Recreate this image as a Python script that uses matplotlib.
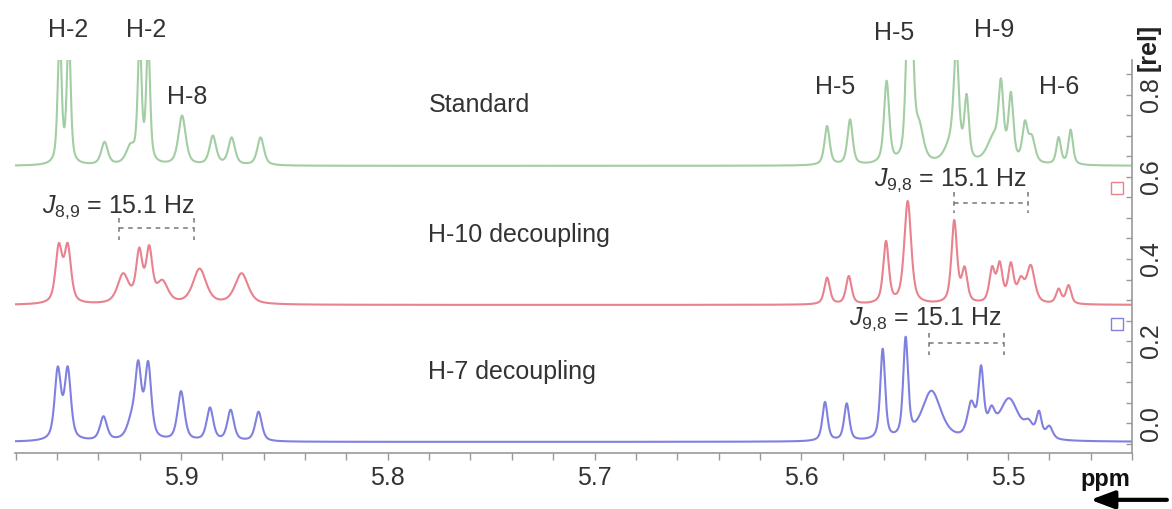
import numpy as np
import matplotlib
matplotlib.use("Agg")
import matplotlib.pyplot as plt

plt.rcParams['font.family'] = ['Liberation Sans', 'DejaVu Sans']
plt.rcParams['mathtext.fontset'] = 'custom'
plt.rcParams['mathtext.rm'] = 'Liberation Sans'
plt.rcParams['mathtext.it'] = 'Liberation Sans:italic'

# ---- data: peak tables (ppm, relative height, half width) ----
std_pos = [5.9587, 5.9543, 5.937, 5.9245, 5.9200, 5.9159, 5.8995, 5.8846, 5.8755, 5.8615,
           5.5875, 5.5764, 5.5587, 5.5485, 5.5466, 5.543, 5.527, 5.525, 5.520, 5.507,
           5.5034, 5.4986, 5.4918, 5.4885, 5.4755, 5.4697]
std_height = [0.32, 0.32, 0.055, 0.04, 0.30, 0.30, 0.12, 0.07, 0.066, 0.068,
              0.095, 0.11, 0.20, 0.30, 0.28, 0.08, 0.05, 0.25, 0.15, 0.06,
              0.17, 0.16, 0.09, 0.06, 0.065, 0.085]
std_width = [0.0011, 0.0011, 0.0019, 0.0025, 0.0011, 0.0011, 0.0021, 0.0019, 0.0019, 0.0019,
             0.0015, 0.0015, 0.0015, 0.0013, 0.0013, 0.0025, 0.0038, 0.0014, 0.0013, 0.0038,
             0.0014, 0.0014, 0.0015, 0.0019, 0.0013, 0.0013]

h10_pos = [5.9591, 5.9548, 5.928, 5.9202, 5.9154, 5.909, 5.891, 5.8707,
           5.5875, 5.577, 5.559, 5.5485, 5.526, 5.521, 5.5077, 5.504, 5.4986,
           5.4938, 5.489, 5.4755, 5.4707]
h10_height = [0.135, 0.135, 0.07, 0.12, 0.125, 0.05, 0.085, 0.075,
              0.065, 0.068, 0.15, 0.25, 0.20, 0.08, 0.08, 0.09, 0.09,
              0.05, 0.09, 0.035, 0.045]
h10_width = [0.0019, 0.0019, 0.0032, 0.0018, 0.0018, 0.0032, 0.0038, 0.0038,
             0.0016, 0.0016, 0.0016, 0.0020, 0.0016, 0.0016, 0.0016, 0.0016, 0.0016,
             0.0019, 0.0023, 0.0015, 0.0015]

h7_pos = [5.9596, 5.9548, 5.9375, 5.924, 5.9207, 5.9159, 5.900, 5.886, 5.876, 5.8625,
          5.5885, 5.578, 5.5606, 5.5495, 5.537, 5.5178, 5.513, 5.508, 5.4995,
          5.490, 5.485, 5.480]
h7_height = [0.17, 0.17, 0.058, 0.04, 0.17, 0.18, 0.12, 0.08, 0.075, 0.072,
             0.095, 0.09, 0.22, 0.24, 0.12, 0.08, 0.16, 0.05, 0.10,
             0.03, 0.06, 0.03]
h7_width = [0.0018, 0.0018, 0.0020, 0.0025, 0.0018, 0.0018, 0.0020, 0.0019, 0.0019, 0.0019,
            0.0015, 0.0015, 0.0014, 0.0014, 0.0055, 0.0022, 0.0015, 0.0019, 0.0055,
            0.0025, 0.0015, 0.0019]

trace_offsets = [0.627, 0.288, -0.046]
trace_names = ["Standard", "H-10 decoupling", "H-7 decoupling"]
trace_colors = ["#a3cda3", "#e8828e", "#8080e0"]

peak_labels = ["H-2", "H-2", "H-8", "H-5", "H-5", "H-9", "H-6"]
peak_label_ppm = [5.9548, 5.9168, 5.8971, 5.5837, 5.5553, 5.5067, 5.4755]
peak_label_y = [0.959, 0.959, 0.795, 0.82, 0.951, 0.959, 0.82]

x_ticks = [5.9, 5.8, 5.7, 5.6, 5.5]
y_ticks = [0.0, 0.2, 0.4, 0.6, 0.8]

LORENTZ_FRACTION = 0.6


def spectrum(ppm, pos, height, width):
    y = np.zeros_like(ppm)
    for p, h, w in zip(pos, height, width):
        u = (ppm - p) / w
        y += h * (LORENTZ_FRACTION / (1.0 + u ** 2)
                  + (1 - LORENTZ_FRACTION) * np.exp(-np.log(2) * u ** 2))
    return y


fig = plt.figure(figsize=(11.72, 5.09), dpi=100)
ax = fig.add_axes([0.0128, 0.110, 0.9531, 0.772])

ppm = np.linspace(5.99, 5.44, 6000)
tables = [(std_pos, std_height, std_width),
          (h10_pos, h10_height, h10_width),
          (h7_pos, h7_height, h7_width)]
for (pos, hh, ww), off, col in zip(tables, trace_offsets, trace_colors):
    ax.plot(ppm, off + spectrum(ppm, pos, hh, ww), color=col, lw=1.5)

ax.set_xlim(5.9803, 5.4433)
ax.set_ylim(-0.073, 0.885)

txt = '#333333'
fs = 18
for lab, xp, yp in zip(peak_labels, peak_label_ppm, peak_label_y):
    ax.text(xp, yp, lab, ha='center', va='center', fontsize=fs, color=txt)

name_y = [0.776, 0.459, 0.124]
for nm, yy in zip(trace_names, name_y):
    ax.text(5.7803, yy, nm, ha='left', va='center', fontsize=fs, color=txt)

# coupling brackets
dash = dict(color='#777777', lw=1.1, ls=(0, (3, 3)))
brackets = [  # (x1, x2, y_h, y_top, y_bot, text x, text y, label)
    (5.9298, 5.8937, 0.476, 0.50, 0.446, 5.9300, 0.527, r'$J_{8{,}9}$ = 15.1 Hz'),
    (5.5260, 5.4904, 0.537, 0.563, 0.512, 5.5280, 0.593, r'$J_{9{,}8}$ = 15.1 Hz'),
    (5.5380, 5.5020, 0.195, 0.220, 0.166, 5.5400, 0.252, r'$J_{9{,}8}$ = 15.1 Hz'),
]
for x1, x2, yh, yt, yb, tx, ty, lab in brackets:
    ax.plot([x1, x2], [yh, yh], **dash)
    ax.plot([x1, x1], [yt, yb], **dash)
    ax.plot([x2, x2], [yt, yb], **dash)
    ax.text(tx, ty, lab, ha='center', va='center', fontsize=fs, color=txt)

# offset markers
ax.plot([5.4474], [0.573], marker='s', ms=8, mfc='none', mec='#e8828e', mew=1.0, clip_on=False)
ax.plot([5.4474], [0.241], marker='s', ms=8, mfc='none', mec='#8080e0', mew=1.0, clip_on=False)

# axes styling
for s in ['top', 'left']:
    ax.spines[s].set_visible(False)
for s in ['bottom', 'right']:
    ax.spines[s].set_color('#999999')
    ax.spines[s].set_linewidth(1.2)
ax.yaxis.tick_right()
ax.set_xticks(x_ticks)
ax.set_xticklabels([f"{v:.1f}" for v in x_ticks])
ax.set_xticks(np.arange(5.44, 5.981, 0.02), minor=True)
ax.set_yticks(y_ticks)
ax.set_yticklabels([f"{v:.1f}" for v in y_ticks])
ax.set_yticks(np.arange(-0.05, 0.88, 0.05), minor=True)
ax.tick_params(axis='x', which='both', direction='out', length=5, width=1, color='#999999',
               labelsize=fs, labelcolor=txt, pad=4)
ax.tick_params(axis='y', which='both', direction='in', length=4, width=1, color='#999999',
               labelsize=fs, labelcolor=txt, pad=5, labelrotation=90)
for lab in ax.get_yticklabels():
    lab.set_va('center')

fig.text(0.980, 0.907, '[rel]', rotation=90, ha='center', va='center', fontsize=fs,
         fontweight='bold', color='#222222')
fig.text(0.943, 0.058, 'ppm', ha='center', va='center', fontsize=17,
         fontweight='bold', color='#111111')
fig.patches.append(matplotlib.patches.FancyArrowPatch(
    (0.998, 0.018), (0.928, 0.018), transform=fig.transFigure,
    arrowstyle='-|>,head_length=1.2,head_width=0.45', lw=3, color='black',
    mutation_scale=12))

fig.savefig('out.png', dpi=100)
